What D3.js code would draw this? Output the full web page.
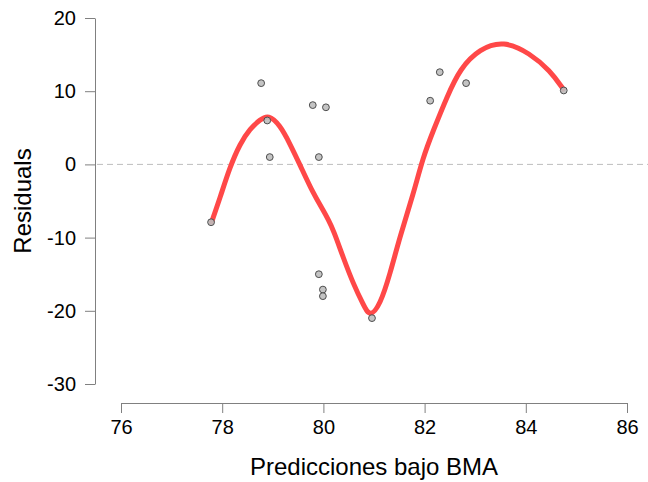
<!DOCTYPE html>
<html>
<head>
<meta charset="utf-8">
<script src="https://cdn.jsdelivr.net/npm/d3@7"></script>
<style>
  body { margin: 0; background: #fff; }
  text { font-family: "Liberation Sans", Arial, sans-serif; fill: #000; }
</style>
</head>
<body>
<script>
// Observed predictions and residuals
var predX = [77.78, 78.77, 78.89, 78.94, 79.79, 80.05, 79.91, 79.91, 79.99, 79.99, 80.96, 82.11, 82.30, 82.82, 84.75];
var residY = [-7.9, 11.1, 6.0, 1.0, 8.1, 7.8, 1.0, -15.0, -17.1, -18.0, -21.0, 8.7, 12.6, 11.1, 10.1];

// Smoothed trend
var smoothX = [77.79, 77.96, 78.15, 78.35, 78.55, 78.75, 78.91, 79.14, 79.34, 79.54, 79.80, 80.00, 80.10, 80.20, 80.39, 80.59, 80.79, 80.92, 81.12, 81.32, 81.51, 81.78, 81.97, 82.17, 82.44, 82.70, 83.09, 83.56, 84.08, 84.48, 84.74];
var smoothY = [-7.9, -4.5, -0.4, 2.8, 4.9, 6.1, 6.8, 5.4, 2.8, -0.1, -4.0, -6.3, -7.6, -9.0, -12.7, -16.3, -19.2, -20.9, -19.2, -14.9, -9.9, -4.0, 1.0, 4.6, 9.2, 13.1, 15.8, 16.9, 15.2, 12.8, 10.3];

var xTicks = [76, 78, 80, 82, 84, 86];
var yTicks = [-30, -20, -10, 0, 10, 20];

var svgWidth = 648;
var svgHeight = 482;

var svg = d3.select("body")
  .append("svg")
  .attr("width", svgWidth)
  .attr("height", svgHeight);

var xScale = d3.scaleLinear().domain([76, 86]).range([121, 627]);
var yScale = d3.scaleLinear().domain([-30, 20]).range([384, 18]);

// zero reference line
svg.append("line")
  .attr("x1", 97)
  .attr("x2", 648)
  .attr("y1", yScale(0))
  .attr("y2", yScale(0))
  .attr("stroke", "#bdbdbd")
  .attr("stroke-width", 1)
  .attr("stroke-dasharray", "6,4");

// axes (plain hyphen for negatives, like the original)
var fmt = d => String(d);
var leftAxis = d3.axisLeft(yScale).tickValues(yTicks).tickFormat(fmt).tickSize(10).tickSizeOuter(0).tickPadding(9);
var bottomAxis = d3.axisBottom(xScale).tickValues(xTicks).tickFormat(fmt).tickSize(10).tickSizeOuter(0).tickPadding(7);

var gy = svg.append("g")
  .attr("transform", "translate(95,0)")
  .call(leftAxis);

var gx = svg.append("g")
  .attr("transform", "translate(0,403)")
  .call(bottomAxis);

[gx, gy].forEach(function(g) {
  g.selectAll("path, line").attr("stroke", "#808080");
  g.selectAll("text")
    .style("font-family", "'Liberation Sans', Arial, sans-serif")
    .style("font-size", "20px")
    .attr("fill", "#000");
});

// smooth curve
var curveData = smoothX.map(function(x, i) { return [x, smoothY[i]]; });
var line = d3.line()
  .x(d => xScale(d[0]))
  .y(d => yScale(d[1]))
  .curve(d3.curveBasis);

svg.append("path")
  .datum(curveData)
  .attr("d", line)
  .attr("fill", "none")
  .attr("stroke", "#ff4848")
  .attr("stroke-width", 5)
  .attr("stroke-linecap", "round");

// points
var pts = predX.map(function(x, i) { return { x: x, y: residY[i] }; });
svg.selectAll(".pt")
  .data(pts)
  .enter()
  .append("circle")
  .attr("class", "pt")
  .attr("cx", d => xScale(d.x))
  .attr("cy", d => yScale(d.y))
  .attr("r", 3.4)
  .attr("fill", "#bebebe")
  .attr("fill-opacity", 0.9)
  .attr("stroke", "#4d4d4d")
  .attr("stroke-width", 1);

// axis titles
svg.append("text")
  .attr("x", 374)
  .attr("y", 475)
  .attr("text-anchor", "middle")
  .style("font-size", "24px")
  .text("Predicciones bajo BMA");

svg.append("text")
  .attr("transform", "translate(31,201) rotate(-90)")
  .attr("text-anchor", "middle")
  .style("font-size", "24px")
  .text("Residuals");
</script>
</body>
</html>
